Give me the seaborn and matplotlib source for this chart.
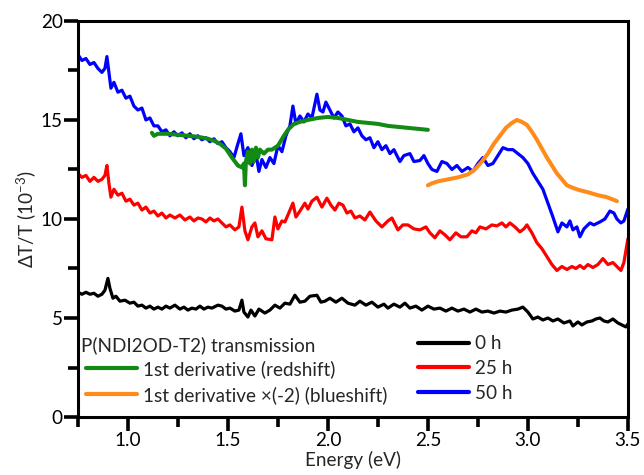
import numpy as np
import matplotlib.pyplot as plt
import seaborn as sns
from matplotlib.lines import Line2D
from matplotlib.ticker import MultipleLocator

# ── DATA ──────────────────────────────────────────────────────
e_50h = [0.75, 0.77, 0.79, 0.81, 0.83, 0.85, 0.87, 0.885, 0.895, 0.905, 0.915, 0.93, 0.95, 0.97, 0.99,
         1.01, 1.03, 1.05, 1.07, 1.09, 1.11, 1.13, 1.15, 1.17, 1.19, 1.21, 1.23, 1.25, 1.27, 1.29, 1.31,
         1.33, 1.35, 1.37, 1.39, 1.41, 1.43, 1.45, 1.47, 1.49, 1.51, 1.53, 1.55, 1.565, 1.58, 1.60, 1.62,
         1.64, 1.655, 1.67, 1.69, 1.71, 1.73, 1.75, 1.77, 1.79, 1.81, 1.825, 1.84, 1.86, 1.88, 1.90, 1.92,
         1.945, 1.96, 1.975, 1.99, 2.01, 2.03, 2.05, 2.07, 2.09, 2.11, 2.13, 2.15, 2.17, 2.19, 2.21, 2.23,
         2.25, 2.27, 2.29, 2.31, 2.33, 2.36, 2.38, 2.41, 2.43, 2.46, 2.48, 2.50, 2.52, 2.545, 2.57, 2.595,
         2.62, 2.645, 2.67, 2.70, 2.725, 2.75, 2.775, 2.80, 2.825, 2.85, 2.875, 2.90, 2.925, 2.95, 2.975,
         3.00, 3.025, 3.05, 3.075, 3.10, 3.125, 3.15, 3.17, 3.195, 3.21, 3.225, 3.245, 3.26, 3.28, 3.31,
         3.33, 3.36, 3.385, 3.41, 3.43, 3.445, 3.465, 3.48, 3.50]
v_50h = [18.3, 18.0, 18.1, 17.8, 17.9, 17.6, 17.4, 17.6, 18.2, 17.4, 16.6, 16.9, 16.4, 16.5, 16.1,
         16.2, 15.7, 15.5, 15.6, 15.0, 15.1, 14.7, 14.7, 14.4, 14.5, 14.2, 14.4, 14.2, 14.35, 14.1, 14.3,
         14.05, 14.2, 14.0, 14.1, 13.9, 14.05, 13.8, 13.9, 13.6, 13.4, 13.1, 13.8, 14.3, 13.2, 13.6, 12.7,
         13.3, 12.4, 13.0, 12.6, 13.1, 12.8, 13.7, 13.4, 14.2, 14.7, 15.7, 14.8, 15.2, 14.9, 15.3, 15.1,
         16.3, 15.5, 15.4, 15.9, 15.5, 15.1, 15.4, 15.2, 14.7, 14.8, 14.4, 14.6, 14.2, 14.0, 14.1, 13.6,
         13.9, 13.5, 13.7, 13.3, 13.5, 12.9, 13.2, 13.3, 12.9, 12.95, 13.2, 12.8, 12.5, 12.4, 12.9, 12.8,
         12.5, 12.7, 12.4, 12.6, 12.4, 12.8, 13.1, 12.7, 12.8, 13.2, 13.6, 13.5, 13.5, 13.3, 13.1,
         12.8, 12.3, 11.9, 11.5, 10.8, 10.1, 9.35, 9.8, 9.6, 9.9, 9.45, 9.6, 9.1, 9.5, 9.8,
         9.7, 9.85, 10.0, 10.4, 10.3, 10.0, 9.8, 9.9, 10.5]

e_25h = [0.75, 0.77, 0.79, 0.81, 0.83, 0.85, 0.87, 0.885, 0.895, 0.905, 0.915, 0.93, 0.95, 0.97, 0.99,
         1.01, 1.03, 1.05, 1.07, 1.09, 1.11, 1.13, 1.15, 1.17, 1.19, 1.21, 1.235, 1.26, 1.285, 1.31, 1.33,
         1.35, 1.37, 1.39, 1.41, 1.43, 1.45, 1.47, 1.49, 1.51, 1.535, 1.555, 1.57, 1.585, 1.60, 1.62,
         1.635, 1.65, 1.67, 1.69, 1.72, 1.735, 1.75, 1.77, 1.785, 1.80, 1.825, 1.84, 1.86, 1.885, 1.90,
         1.92, 1.945, 1.97, 1.995, 2.015, 2.035, 2.055, 2.075, 2.095, 2.115, 2.135, 2.16, 2.185, 2.21,
         2.24, 2.27, 2.30, 2.32, 2.35, 2.375, 2.40, 2.43, 2.46, 2.49, 2.51, 2.535, 2.56, 2.585, 2.61,
         2.64, 2.665, 2.695, 2.72, 2.74, 2.76, 2.79, 2.82, 2.845, 2.87, 2.89, 2.91, 2.935, 2.96, 2.98,
         2.995, 3.02, 3.045, 3.07, 3.095, 3.12, 3.145, 3.17, 3.195, 3.22, 3.24, 3.26, 3.28, 3.30, 3.325,
         3.35, 3.375, 3.40, 3.425, 3.445, 3.465, 3.48, 3.50]
v_25h = [12.3, 12.1, 12.2, 11.9, 12.1, 11.9, 12.0, 12.2, 12.7, 11.8, 11.1, 11.5, 11.2, 11.3, 10.9,
         11.0, 10.7, 10.8, 10.45, 10.6, 10.3, 10.4, 10.15, 10.3, 10.05, 10.2, 10.05, 10.2, 9.95, 10.1, 9.9,
         10.05, 10.0, 9.85, 10.05, 9.9, 10.0, 9.8, 9.6, 9.7, 9.45, 9.6, 10.6, 9.4, 8.95, 9.6,
         9.8, 9.1, 9.4, 9.0, 8.95, 10.1, 9.5, 9.9, 9.85, 10.2, 10.8, 10.1, 10.4, 10.8, 10.5,
         10.9, 11.1, 10.6, 11.05, 10.7, 10.45, 10.8, 10.7, 10.3, 10.4, 10.05, 10.15, 9.95, 10.35,
         9.9, 9.6, 9.9, 10.05, 9.45, 9.7, 9.7, 9.5, 9.45, 9.6, 9.3, 9.05, 9.4, 9.2, 8.95,
         9.3, 9.1, 9.1, 9.4, 9.3, 9.6, 9.5, 9.7, 9.65, 9.8, 9.6, 9.8, 9.6, 9.35, 9.5,
         9.7, 9.3, 8.8, 8.5, 8.1, 7.7, 7.4, 7.6, 7.45, 7.6, 7.5, 7.65, 7.5, 7.7, 7.55,
         7.7, 8.0, 7.7, 7.8, 7.6, 7.4, 7.8, 9.0]

e_0h = [0.75, 0.77, 0.79, 0.81, 0.83, 0.85, 0.87, 0.885, 0.90, 0.91, 0.925, 0.94, 0.96, 0.985,
        1.01, 1.03, 1.05, 1.07, 1.09, 1.11, 1.13, 1.15, 1.17, 1.19, 1.21, 1.235, 1.26, 1.28, 1.30, 1.32,
        1.34, 1.36, 1.38, 1.40, 1.42, 1.45, 1.47, 1.49, 1.51, 1.535, 1.555, 1.57, 1.58, 1.60, 1.615,
        1.635, 1.655, 1.685, 1.71, 1.735, 1.76, 1.785, 1.81, 1.835, 1.86, 1.885, 1.91, 1.945, 1.965,
        1.985, 2.01, 2.04, 2.07, 2.10, 2.135, 2.16, 2.19, 2.22, 2.25, 2.28, 2.30, 2.33, 2.36, 2.385,
        2.41, 2.44, 2.47, 2.50, 2.53, 2.56, 2.59, 2.62, 2.65, 2.68, 2.71, 2.74, 2.77, 2.80, 2.83,
        2.86, 2.89, 2.92, 2.95, 2.975, 3.00, 3.025, 3.05, 3.075, 3.10, 3.125, 3.15, 3.18, 3.21, 3.225,
        3.25, 3.27, 3.295, 3.32, 3.34, 3.36, 3.38, 3.40, 3.425, 3.45, 3.47, 3.49, 3.50]
v_0h = [6.3, 6.2, 6.3, 6.2, 6.25, 6.1, 6.2, 6.4, 7.0, 6.5, 6.0, 6.1, 5.85, 5.9,
        5.75, 5.8, 5.6, 5.65, 5.5, 5.6, 5.45, 5.55, 5.45, 5.6, 5.5, 5.65, 5.45, 5.55, 5.4, 5.5,
        5.45, 5.6, 5.45, 5.55, 5.5, 5.65, 5.6, 5.45, 5.5, 5.35, 5.4, 5.9, 5.3, 5.05, 5.4,
        5.1, 5.45, 5.25, 5.4, 5.65, 5.5, 5.75, 5.7, 6.15, 5.8, 5.85, 6.1, 6.15, 5.8,
        5.85, 6.0, 5.8, 6.0, 5.75, 5.65, 5.85, 5.65, 5.8, 5.55, 5.7, 5.5, 5.7, 5.55, 5.75,
        5.5, 5.6, 5.4, 5.6, 5.45, 5.5, 5.35, 5.5, 5.35, 5.45, 5.3, 5.45, 5.3, 5.35, 5.25,
        5.35, 5.3, 5.4, 5.45, 5.55, 5.3, 4.95, 5.05, 4.9, 5.0, 4.85, 4.95, 4.75, 4.85, 4.6,
        4.8, 4.65, 4.8, 4.85, 4.95, 5.0, 4.85, 4.8, 4.95, 4.75, 4.65, 4.55, 4.7]

e_red = [1.12, 1.13, 1.15, 1.20, 1.25, 1.30, 1.35, 1.40, 1.43, 1.46, 1.49, 1.52, 1.55, 1.57, 1.58,
         1.585, 1.59, 1.60, 1.61, 1.62, 1.63, 1.64, 1.65, 1.66, 1.68, 1.70, 1.72, 1.75, 1.78, 1.80,
         1.83, 1.86, 1.90, 1.95, 2.00, 2.05, 2.10, 2.15, 2.20, 2.25, 2.30, 2.35, 2.40, 2.45, 2.50]
v_red = [14.35, 14.2, 14.3, 14.3, 14.25, 14.2, 14.15, 14.05, 13.95, 13.8, 13.55, 13.1, 12.7, 12.6, 12.8,
         11.7, 12.9, 13.4, 12.8, 13.5, 12.9, 13.6, 13.1, 13.5, 13.3, 13.5, 13.5, 13.7, 14.2, 14.5,
         14.8, 14.9, 15.0, 15.1, 15.15, 15.1, 15.0, 14.9, 14.85, 14.8, 14.7, 14.65, 14.6, 14.55, 14.5]

e_blue = [2.50, 2.52, 2.55, 2.60, 2.65, 2.70, 2.735, 2.77, 2.80, 2.83, 2.86, 2.89, 2.92, 2.945, 2.97,
          2.995, 3.02, 3.045, 3.07, 3.095, 3.12, 3.145, 3.17, 3.195, 3.23, 3.26, 3.30, 3.35, 3.395, 3.445]
v_blue = [11.7, 11.8, 11.9, 12.0, 12.1, 12.25, 12.5, 12.9, 13.3, 13.8, 14.2, 14.6, 14.85, 15.0, 14.9,
          14.75, 14.4, 14.0, 13.55, 13.1, 12.7, 12.3, 12.0, 11.7, 11.55, 11.45, 11.35, 11.2, 11.1, 10.9]

# ── STYLE ─────────────────────────────────────────────────────
sns.set_style("ticks")
fs = 13.6
plt.rcParams.update({
    'font.family': ['Lato', 'DejaVu Sans'],
    'mathtext.fontset': 'custom',
    'mathtext.rm': 'Lato',
    'mathtext.it': 'Lato:italic',
    'mathtext.bf': 'Lato:bold',
    'xtick.direction': 'out', 'ytick.direction': 'out',
    'xtick.major.size': 10, 'ytick.major.size': 10,
    'xtick.minor.size': 7, 'ytick.minor.size': 7,
    'xtick.major.width': 2.6, 'ytick.major.width': 2.6,
    'xtick.minor.width': 2.6, 'ytick.minor.width': 2.6,
    'xtick.color': 'black', 'ytick.color': 'black',
    'xtick.labelsize': fs, 'ytick.labelsize': fs,
    'xtick.major.pad': 1, 'ytick.major.pad': 1,
    'axes.edgecolor': 'black', 'axes.linewidth': 2.2,
})

fig, ax = plt.subplots(figsize=(6.44, 4.75), dpi=100)
fig.subplots_adjust(left=0.121, right=0.975, top=0.956, bottom=0.122)

lw = 2.3
sns.lineplot(x=e_0h, y=v_0h, color='black', lw=lw, sort=False, ax=ax)
sns.lineplot(x=e_25h, y=v_25h, color='#ff0000', lw=lw, sort=False, ax=ax)
sns.lineplot(x=e_50h, y=v_50h, color='#0000ff', lw=lw, sort=False, ax=ax)
sns.lineplot(x=e_red, y=v_red, color='#138a13', lw=lw + 0.6, sort=False, ax=ax)
sns.lineplot(x=e_blue, y=v_blue, color='#ff8c1a', lw=lw + 0.6, sort=False, ax=ax)

ax.set_xlim(0.75, 3.5)
ax.set_ylim(0, 20)
ax.xaxis.set_major_locator(MultipleLocator(0.5))
ax.xaxis.set_minor_locator(MultipleLocator(0.25))
ax.yaxis.set_major_locator(MultipleLocator(5))
ax.yaxis.set_minor_locator(MultipleLocator(2.5))
ax.xaxis.set_major_formatter(lambda v, pos: f'{v:.1f}')

ax.set_xlabel('Energy (eV)', fontsize=fs, labelpad=1)
ax.set_ylabel(r'$\Delta$T/T (10$^{-3}$)', fontsize=fs, labelpad=2)

# ── LEGEND ────────────────────────────────────────────────────
blank = Line2D([], [], alpha=0)
handles = [blank,
           Line2D([], [], color='#138a13', lw=3),
           Line2D([], [], color='#ff8c1a', lw=3),
           Line2D([], [], color='black', lw=3),
           Line2D([], [], color='#ff0000', lw=3),
           Line2D([], [], color='#0000ff', lw=3)]
labels = ['', '1st derivative (redshift)', '1st derivative \u00d7(-2) (blueshift)',
          '0 h', '25 h', '50 h']
ax.legend(handles, labels, ncol=2, loc='lower left', bbox_to_anchor=(-0.01, 0.0),
          frameon=False, fontsize=fs, handlelength=2.7, handletextpad=0.35,
          columnspacing=1.6, labelspacing=0.42, borderaxespad=0.3)
ax.text(0.005, 0.182, 'P(NDI2OD-T2) transmission', transform=ax.transAxes,
        fontsize=fs, va='center', ha='left')

fig.savefig('out.png', dpi=100)
